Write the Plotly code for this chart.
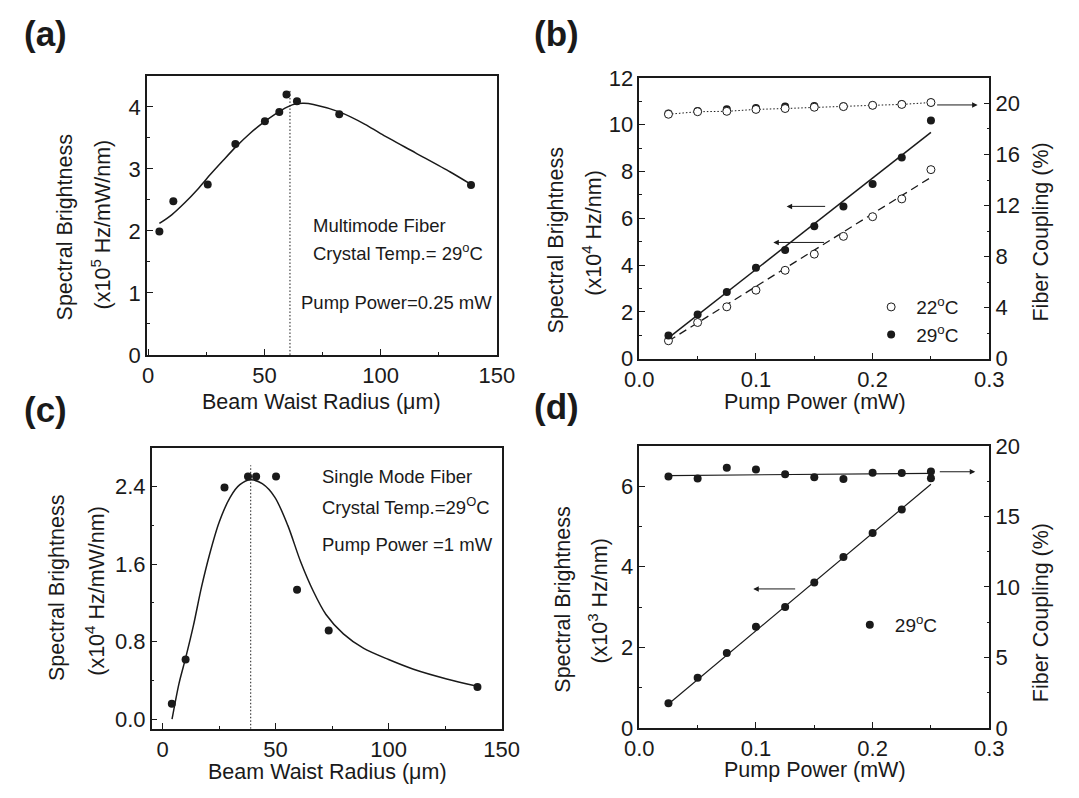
import plotly.graph_objects as go

W, H = 1079, 798
FONT = "Arial, Liberation Sans, sans-serif"
INK = "#1a1a1a"

# ---------------- (a) multimode fiber: brightness vs beam waist ----------------
a_waist = [4.8, 10.8, 25.6, 37.5, 50.2, 56.4, 59.5, 64.0, 82.2, 138.9]
a_bright = [1.99, 2.48, 2.75, 3.40, 3.77, 3.92, 4.20, 4.09, 3.88, 2.74]
a_fit_waist = [4.8, 10.1, 15.6, 21.2, 26.7, 32.3, 37.8, 43.4, 48.9, 54.5, 60.0, 63.5,
               67.0, 71.1, 82.2, 93.3, 100.0, 115.0, 130.0, 138.9]
a_fit_bright = [2.12, 2.26, 2.45, 2.67, 2.91, 3.14, 3.36, 3.56, 3.73, 3.88, 4.00, 4.05,
                4.06, 4.04, 3.92, 3.72, 3.57, 3.26, 2.95, 2.75]
a_optimum_waist = 61.0
a_marker_top = 4.28

# ---------------- (b) multimode fiber: brightness / coupling vs pump ----------------
pump = [0.025, 0.05, 0.075, 0.1, 0.125, 0.15, 0.175, 0.2, 0.225, 0.25]
b_bright_22 = [0.77, 1.55, 2.22, 2.93, 3.78, 4.47, 5.23, 6.07, 6.83, 8.08]
b_bright_29 = [0.99, 1.89, 2.85, 3.89, 4.65, 5.66, 6.50, 7.47, 8.60, 10.18]
fit_pump = [0.025, 0.25]
b_fit_22 = [0.76, 7.75]
b_fit_29 = [0.89, 9.67]
b_coupling_22 = [19.15, 19.35, 19.38, 19.53, 19.60, 19.70, 19.75, 19.85, 19.92, 20.07]
b_coupling_29 = [19.20, 19.40, 19.55, 19.65, 19.75, 19.80, 19.78, 19.86, 19.93, 20.08]

# ---------------- (c) single mode fiber: brightness vs beam waist ----------------
c_waist = [4.1, 10.2, 27.4, 37.8, 41.4, 50.2, 59.5, 73.5, 139.3]
c_bright = [0.16, 0.615, 2.39, 2.505, 2.505, 2.505, 1.335, 0.915, 0.332]
c_fit_waist = [4.2, 7.3, 10.2, 13.7, 17.2, 20.8, 25.0, 29.9, 34.2, 39.1, 44.1, 49.7,
               55.4, 61.0, 66.7, 72.3, 80.0, 89.0, 100.0, 111.0, 125.7, 139.3]
c_fit_bright = [0.0, 0.37, 0.63, 0.97, 1.36, 1.70, 2.03, 2.29, 2.42, 2.47, 2.43, 2.29,
                2.00, 1.63, 1.32, 1.08, 0.88, 0.73, 0.615, 0.515, 0.415, 0.34]
c_optimum_waist = 39.0
c_marker_top = 2.62

# ---------------- (d) single mode fiber: brightness / coupling vs pump ----------------
d_bright = [0.61, 1.245, 1.86, 2.51, 3.00, 3.61, 4.24, 4.84, 5.42, 6.20]
d_fit = [0.59, 6.05]
d_coupling = [17.83, 17.69, 18.45, 18.33, 17.99, 17.78, 17.65, 18.10, 18.08, 18.19]
d_coupling_fit = [17.90, 18.06]


def px_x(x):
    return x / W


def px_y(y):
    return 1 - y / H


def dom_x(l, r):
    return [px_x(l), px_x(r)]


def dom_y(t, b):
    return [px_y(b), px_y(t)]


fig = go.Figure()

dot = dict(size=8, color=INK)
ring = dict(size=8, color="white", line=dict(color=INK, width=1))
FINE_DOT = "1.5px,2px"

# (a)
fig.add_trace(go.Scatter(x=a_fit_waist, y=a_fit_bright, mode="lines",
                         line=dict(color=INK, width=1.5, shape="spline", smoothing=0.8),
                         xaxis="x", yaxis="y", showlegend=False))
fig.add_trace(go.Scatter(x=[a_optimum_waist, a_optimum_waist], y=[0, a_marker_top], mode="lines",
                         line=dict(color=INK, width=1, dash=FINE_DOT), xaxis="x", yaxis="y", showlegend=False))
fig.add_trace(go.Scatter(x=a_waist, y=a_bright, mode="markers", marker=dot, xaxis="x", yaxis="y", showlegend=False))

# (b)
fig.add_trace(go.Scatter(x=fit_pump, y=b_fit_29, mode="lines", line=dict(color=INK, width=1.5),
                         xaxis="x2", yaxis="y2", showlegend=False))
fig.add_trace(go.Scatter(x=fit_pump, y=b_fit_22, mode="lines", line=dict(color=INK, width=1.3, dash="8px,5px"),
                         xaxis="x2", yaxis="y2", showlegend=False))
fig.add_trace(go.Scatter(x=pump, y=b_coupling_22, mode="lines", line=dict(color=INK, width=1, dash=FINE_DOT),
                         xaxis="x2", yaxis="y3", showlegend=False))
fig.add_trace(go.Scatter(x=pump, y=b_coupling_29, mode="markers", marker=dot,
                         xaxis="x2", yaxis="y3", showlegend=False))
fig.add_trace(go.Scatter(x=pump, y=b_coupling_22, mode="markers", marker=ring,
                         xaxis="x2", yaxis="y3", showlegend=False))
fig.add_trace(go.Scatter(x=pump, y=b_bright_22, mode="markers", marker=ring, name="22<sup>o</sup>C",
                         xaxis="x2", yaxis="y2", legend="legend2"))
fig.add_trace(go.Scatter(x=pump, y=b_bright_29, mode="markers", marker=dot, name="29<sup>o</sup>C",
                         xaxis="x2", yaxis="y2", legend="legend2"))

# (c)
fig.add_trace(go.Scatter(x=c_fit_waist, y=c_fit_bright, mode="lines",
                         line=dict(color=INK, width=1.5, shape="spline", smoothing=0.8),
                         xaxis="x3", yaxis="y4", showlegend=False))
fig.add_trace(go.Scatter(x=[c_optimum_waist, c_optimum_waist], y=[-0.1, c_marker_top], mode="lines",
                         line=dict(color=INK, width=1, dash=FINE_DOT), xaxis="x3", yaxis="y4", showlegend=False))
fig.add_trace(go.Scatter(x=c_waist, y=c_bright, mode="markers", marker=dot, xaxis="x3", yaxis="y4", showlegend=False))

# (d)
fig.add_trace(go.Scatter(x=fit_pump, y=d_fit, mode="lines", line=dict(color=INK, width=1.2),
                         xaxis="x4", yaxis="y5", showlegend=False))
fig.add_trace(go.Scatter(x=fit_pump, y=d_coupling_fit, mode="lines", line=dict(color=INK, width=1.2),
                         xaxis="x4", yaxis="y6", showlegend=False))
fig.add_trace(go.Scatter(x=pump, y=d_coupling, mode="markers", marker=dot,
                         xaxis="x4", yaxis="y6", showlegend=False))
fig.add_trace(go.Scatter(x=pump, y=d_bright, mode="markers", marker=dot, name="29<sup>o</sup>C",
                         xaxis="x4", yaxis="y5", legend="legend3"))

tickfont = dict(size=22, color=INK, family=FONT)


def axis(domain, rng, dtick, minor_dtick, anchor, tickformat=None, side=None, overlaying=None, mirror=True):
    ax = dict(domain=domain, range=rng, dtick=dtick, tick0=0, anchor=anchor,
              showline=True, linecolor=INK, linewidth=1.5, mirror=mirror,
              ticks="inside", ticklen=6, tickwidth=1.2, tickcolor=INK,
              showgrid=False, zeroline=False, tickfont=tickfont,
              minor=dict(ticks="inside", ticklen=3, tickwidth=1.2, tickcolor=INK,
                         dtick=minor_dtick, tick0=0, showgrid=False))
    if tickformat:
        ax["tickformat"] = tickformat
    if side:
        ax["side"] = side
    if overlaying:
        ax["overlaying"] = overlaying
        ax.pop("domain")
    return ax


legend_font = dict(size=19, color=INK, family=FONT)
layout = dict(
    width=W, height=H, margin=dict(l=0, r=0, t=0, b=0),
    paper_bgcolor="white", plot_bgcolor="white",
    font=dict(family=FONT, color=INK),
    xaxis=axis(dom_x(136, 497), [-0.6, 150], 50, 25, "y"),
    yaxis=axis(dom_y(66, 354), [0, 4.5], 1, 0.5, "x"),
    xaxis2=axis(dom_x(644, 1005), [0, 0.3], 0.1, 0.05, "y2", tickformat=".1f"),
    yaxis2=axis(dom_y(68, 358), [0, 12], 2, 1, "x2"),
    yaxis3=axis(None, [0, 22], 4, 2, "x2", side="right", overlaying="y2", mirror=False),
    xaxis3=axis(dom_x(141, 502), [-4.8, 150], 50, 25, "y4"),
    yaxis4=axis(dom_y(450, 740), [-0.1, 2.8], 0.8, 0.4, "x3", tickformat=".1f"),
    xaxis4=axis(dom_x(644, 1005), [0, 0.3], 0.1, 0.05, "y5", tickformat=".1f"),
    yaxis5=axis(dom_y(448, 739), [0, 7], 2, 1, "x4"),
    yaxis6=axis(None, [0, 20], 5, 2.5, "x4", side="right", overlaying="y5", mirror=False),
    legend2=dict(x=px_x(878), y=px_y(285), xanchor="left", yanchor="top", bgcolor="rgba(0,0,0,0)",
                 font=legend_font, itemwidth=40),
    legend3=dict(x=px_x(856), y=px_y(613), xanchor="left", yanchor="top", bgcolor="rgba(0,0,0,0)",
                 font=legend_font, itemwidth=40),
)
fig.update_layout(**layout)

ann = []


def label(text, x, y, size=21.5, angle=0, xanchor="center", yanchor="middle", bold=False):
    ann.append(dict(text=f"<b>{text}</b>" if bold else text, x=px_x(x), y=px_y(y), xref="paper", yref="paper",
                    showarrow=False, textangle=angle, xanchor=xanchor, yanchor=yanchor,
                    font=dict(size=size, color=INK, family=FONT)))


# panel letters
label("(a)", 7, 22, size=35, xanchor="left", bold=True)
label("(b)", 533, 22, size=35, xanchor="left", bold=True)
label("(c)", 7, 410, size=35, xanchor="left", bold=True)
label("(d)", 533, 407, size=35, xanchor="left", bold=True)

# axis titles
label("Beam Waist Radius (μm)", 316, 403)
label("Pump Power (mW)", 825, 403)
label("Beam Waist Radius (μm)", 322, 785)
label("Pump Power (mW)", 825, 783)

label("Spectral Brightness", 52, 222, angle=-90)
label("(x10<sup>5</sup> Hz/mW/nm)", 89, 219, angle=-90)
label("Spectral Brightness", 558, 236, angle=-90)
label("(x10<sup>4</sup> Hz/nm)", 595, 228, angle=-90)
label("Fiber Coupling (%)", 1058, 227, angle=-90)
label("Spectral Brightness", 44, 595, angle=-90)
label("(x10<sup>4</sup> Hz/mW/nm)", 83, 597, angle=-90)
label("Spectral Brightness", 565, 607, angle=-90)
label("(x10<sup>3</sup> Hz/nm)", 601, 608, angle=-90)
label("Fiber Coupling (%)", 1058, 620, angle=-90)


def note(text, x, y, xr, yr):
    ann.append(dict(text=text, x=x, y=y, xref=xr, yref=yr, showarrow=False, xanchor="left", yanchor="middle",
                    font=dict(size=18.5, color=INK, family=FONT)))


note("Multimode Fiber", 69.9, 2.09, "x", "y")
note("Crystal Temp.= 29<sup>o</sup>C", 69.9, 1.66, "x", "y")
note("Pump Power=0.25 mW", 64.7, 0.84, "x", "y")
note("Single Mode Fiber", 69.6, 2.50, "x3", "y4")
note("Crystal Temp.=29<sup>O</sup>C", 69.6, 2.20, "x3", "y4")
note("Pump Power =1 mW", 69.6, 1.80, "x3", "y4")


def arrow(x_tail, x_head, y, xr, yr):
    ann.append(dict(x=x_head, y=y, ax=x_tail, ay=y, xref=xr, yref=yr, axref=xr, ayref=yr, text="",
                    showarrow=True, arrowhead=2, arrowsize=1.1, arrowwidth=1, arrowcolor=INK))


arrow(0.254, 0.290, 19.88, "x2", "y3")
arrow(0.1606, 0.1263, 6.51, "x2", "y2")
arrow(0.1597, 0.1149, 4.97, "x2", "y2")
arrow(0.2563, 0.2880, 18.17, "x4", "y6")
arrow(0.1349, 0.0977, 3.45, "x4", "y5")

fig.update_layout(annotations=ann)
fig.write_html("out.html")
